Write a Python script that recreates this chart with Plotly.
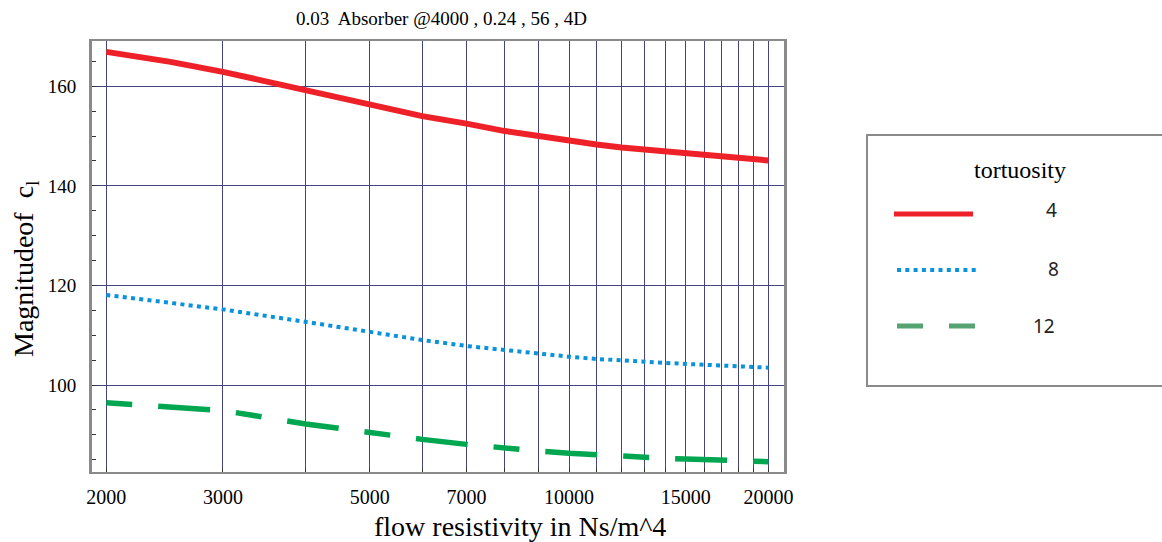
import plotly.graph_objects as go

# ---------------- data ----------------
flow_resistivity = [2000, 2500, 3000, 4000, 5000, 6000, 7000, 8000, 9000, 10000,
                    11000, 12000, 13000, 14000, 15000, 16000, 17000, 18000, 19000, 20000]
mag_t4 = [166.9, 164.9, 162.9, 159.2, 156.3, 154.0, 152.5, 151.0, 150.0, 149.0,
          148.3, 147.7, 147.3, 146.8, 146.4, 146.1, 145.8, 145.6, 145.4, 145.1]
mag_t8 = [118.1, 116.6, 115.2, 112.7, 110.65, 109.05, 107.85, 107.0, 106.3, 105.7,
          105.25, 104.9, 104.65, 104.45, 104.25, 104.05, 103.9, 103.77, 103.65, 103.5]
mag_t12 = [96.45, 95.45, 94.9, 92.2, 90.45, 89.1, 88.1, 87.3, 86.75, 86.3,
           85.95, 85.7, 85.5, 85.3, 85.15, 85.0, 84.9, 84.78, 84.7, 84.63]

series_names = ["4", "8", "12"]
x_tick_vals = [2000, 3000, 5000, 7000, 10000, 15000, 20000]
x_tick_text = ["2000", "3000", "5000", "7000", "10000", "15000", "20000"]
x_grid_vals = list(range(2000, 21000, 1000))
y_tick_vals = [100, 120, 140, 160]

title_text = "0.03  Absorber @4000 , 0.24 , 56 , 4D"
x_title = "flow resistivity in Ns/m^4"
y_title = "Magnitudeof  c<sub>l</sub>"
legend_title = "tortuosity"

# ---------------- styling ----------------
RED = "#ee2128"
BLUE = "#0a93dc"
GREEN = "#00a650"
GREEN_LEG = "#55a373"
GRID = "#45457d"
SERIF = "Liberation Serif"
SANS = "Noto Sans"

W, H = 1162, 542
L, R, T, B = 92, 784, 41, 472  # plot area in pixels


def px(x):
    return (x - L) / (R - L)


def py(y):
    return (B - y) / (B - T)


fig = go.Figure()
fig.add_trace(go.Scatter(x=flow_resistivity, y=mag_t4, mode="lines", name=series_names[0],
                         line=dict(color=RED, width=6), showlegend=False))
fig.add_trace(go.Scatter(x=flow_resistivity, y=mag_t8, mode="lines", name=series_names[1],
                         line=dict(color=BLUE, width=4, dash="4px,4.3px"), showlegend=False))
fig.add_trace(go.Scatter(x=flow_resistivity, y=mag_t12, mode="lines", name=series_names[2],
                         line=dict(color=GREEN, width=5.5, dash="26px,26px,52px,26px"),
                         showlegend=False))

fig.update_layout(
    width=W, height=H, autosize=False,
    margin=dict(l=L, r=W - R, t=T, b=H - B, pad=0),
    paper_bgcolor="white", plot_bgcolor="white",
    showlegend=False,
    font=dict(family=SERIF, color="black"),
)

fig.update_xaxes(
    type="log", range=[3.27945, 4.32457],
    tickmode="array", tickvals=x_tick_vals, ticktext=x_tick_text,
    tickfont=dict(family=SERIF, size=20, color="black"),
    ticks="inside", ticklen=4, tickcolor="#333", tickwidth=1,
    ticklabelstandoff=6,
    showgrid=True, gridcolor=GRID, gridwidth=1,
    minor=dict(tickmode="array", tickvals=x_grid_vals, showgrid=True, gridcolor=GRID,
               gridwidth=1, ticks="inside", ticklen=4, tickcolor="#333"),
    showline=True, linecolor="#8a8a8a", linewidth=2, mirror=True,
    zeroline=False,
)
fig.update_yaxes(
    range=[82.55, 169.09],
    tickmode="array", tickvals=y_tick_vals,
    tickfont=dict(family=SERIF, size=19, color="black"),
    ticks="inside", ticklen=5, tickcolor="#333", tickwidth=1,
    ticklabelstandoff=9,
    showgrid=True, gridcolor=GRID, gridwidth=1,
    minor=dict(dtick=5, tick0=0, ticks="inside", ticklen=4, tickcolor="#333", showgrid=False),
    showline=True, linecolor="#8a8a8a", linewidth=3, mirror=True,
    zeroline=False,
)

ann = []
ann.append(dict(text=title_text, x=px(441), y=py(18), xref="paper", yref="paper",
                showarrow=False, xanchor="center", yanchor="middle",
                font=dict(family=SERIF, size=19, color="black")))
ann.append(dict(text=x_title, x=px(520), y=py(526), xref="paper", yref="paper",
                showarrow=False, xanchor="center", yanchor="middle",
                font=dict(family=SERIF, size=28, color="black")))
ann.append(dict(text=y_title, x=px(25), y=py(269), xref="paper", yref="paper",
                showarrow=False, xanchor="center", yanchor="middle", textangle=-90,
                font=dict(family=SERIF, size=28, color="black")))

# ---------------- custom legend ----------------
shapes = []
shapes.append(dict(type="rect", xref="paper", yref="paper",
                   x0=px(867), x1=px(1175), y0=py(386), y1=py(135),
                   line=dict(color="#8a8a8a", width=2), fillcolor="rgba(0,0,0,0)", layer="above"))
ann.append(dict(text=legend_title, x=px(1020), y=py(170), xref="paper", yref="paper",
                showarrow=False, xanchor="center", yanchor="middle",
                font=dict(family=SERIF, size=24, color="black")))
legend_rows = [
    (series_names[0], 214, dict(color=RED, width=5), 894, 973, 1051, 210),
    (series_names[1], 270, dict(color=BLUE, width=4, dash="4px,4.3px"), 897, 977, 1053, 269),
    (series_names[2], 326, dict(color=GREEN_LEG, width=5, dash="26px,26px"), 897, 977, 1044, 326),
]
for name, yy, ln, xa, xb, xl, yl in legend_rows:
    shapes.append(dict(type="line", xref="paper", yref="paper",
                       x0=px(xa), x1=px(xb), y0=py(yy), y1=py(yy), line=ln))
    ann.append(dict(text=name, x=px(xl), y=py(yl), xref="paper", yref="paper",
                    showarrow=False, xanchor="center", yanchor="middle",
                    font=dict(family=SANS, size=19, color="#222")))

fig.update_layout(annotations=ann, shapes=shapes)
fig.write_html("out.html", config={"displayModeBar": False},
               post_script="document.body.style.margin='0';document.body.style.padding='0';")
